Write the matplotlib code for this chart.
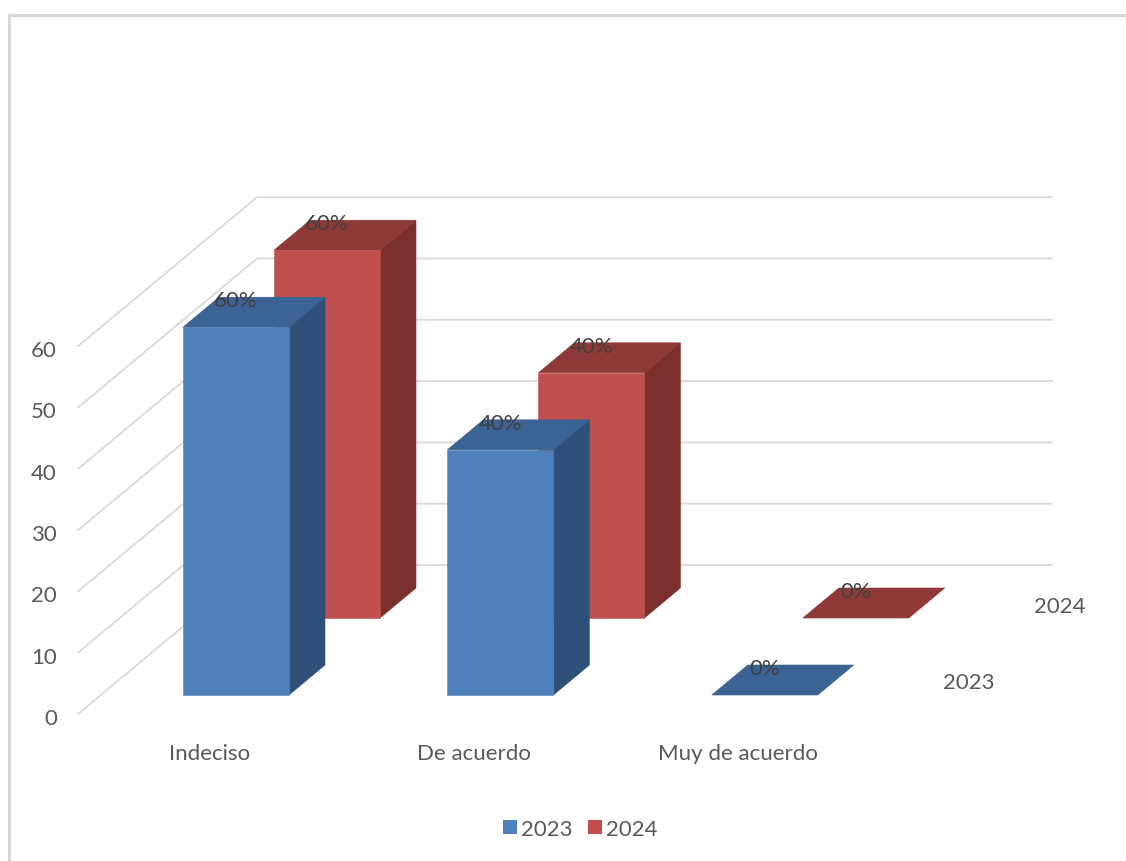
import matplotlib
matplotlib.use("Agg")
import matplotlib.pyplot as plt
from matplotlib.patches import Polygon, Rectangle
from matplotlib.lines import Line2D

categories = ["Indeciso", "De acuerdo", "Muy de acuerdo"]
series_names = ["2023", "2024"]
values_2023 = [60, 40, 0]
values_2024 = [60, 40, 0]
labels_2023 = ["60%", "40%", "0%"]
labels_2024 = ["60%", "40%", "0%"]
y_ticks = [0, 10, 20, 30, 40, 50, 60]

W, H = 1126, 862
PX_PER_UNIT = 6.13
Y0 = 714
SHIFT = 1
fig = plt.figure(figsize=(W / 100, H / 100), dpi=100, facecolor="white")
ax = fig.add_axes([0, 0, 1, 1])
ax.set_xlim(0, W)
ax.set_ylim((Y0 + SHIFT - H) / PX_PER_UNIT, (Y0 + SHIFT) / PX_PER_UNIT)
ax.axis("off")

plt.rcParams["font.family"] = ["Lato", "DejaVu Sans"]
TXT = "#595959"
LBL = "#404040"
GRID = "#d9d9d9"
u = 1 / PX_PER_UNIT
T = 1 * u  # text nudge downward

# chart frame
ax.add_line(Line2D([9, 9, W], [(Y0 - H) * u, (Y0 - 15) * u, (Y0 - 15) * u], color="#d9d9d9", lw=2.2))

# walls
wall_dx, wall_dy = 179, 149 * u
for t in y_ticks:
    ax.add_line(Line2D([78, 78 + wall_dx, 1052], [t, t + wall_dy, t + wall_dy], color=GRID, lw=1.3, zorder=1))
    ax.text(57, t - 4 * u, str(t), ha="right", va="center", fontsize=16, color=TXT)

# bars
step = 264.4
width = 106
dep_x, dep_y = 36, 30 * u
series_pos = [(183, 695, 0), (274, 618, 1)]
colors = [("#4f81bd", "#3b6393", "#2f5179"), ("#c0504d", "#8f3a38", "#7b302e")]


def bar(x, base, val, cols, z):
    top = base + val
    if val > 0:
        ax.add_patch(Polygon([(x + width, base), (x + width + dep_x, base + dep_y),
                              (x + width + dep_x, top + dep_y), (x + width, top)],
                             fc=cols[2], ec=cols[2], lw=0.4, zorder=z))
        ax.add_patch(Polygon([(x, base), (x + width, base), (x + width, top), (x, top)],
                             fc=cols[0], ec=cols[0], lw=0.4, zorder=z + 0.5))
    ax.add_patch(Polygon([(x, top), (x + dep_x, top + dep_y),
                          (x + width + dep_x, top + dep_y), (x + width, top)],
                         fc=cols[1], ec=cols[1], lw=0.4, zorder=z))


for values, labels, (x0, base_px, s) in [(values_2024, labels_2024, series_pos[1]),
                                         (values_2023, labels_2023, series_pos[0])]:
    z = 5 if s == 1 else 7
    for i, v in enumerate(values):
        x = x0 + i * step
        base = (Y0 - base_px) * u
        bar(x, base, v, colors[s], z)
        ax.text(x + 53, base + v + 28 * u - T, labels[i], ha="center", va="center",
                fontsize=16, color=LBL, zorder=10)

# category labels
for i, c in enumerate(categories):
    ax.text(210 + i * 264, (Y0 - 752) * u - T, c, ha="center", va="center", fontsize=16, color=TXT)

# series axis labels
ax.text(1060, (Y0 - 605) * u - T, series_names[1], ha="center", va="center", fontsize=16, color=TXT)
ax.text(969, (Y0 - 681) * u - T, series_names[0], ha="center", va="center", fontsize=16, color=TXT)

# legend
for name, col, xs, xt in zip(series_names, [colors[0][0], colors[1][0]], [503, 588], [547, 632]):
    ax.add_patch(Rectangle((xs, (Y0 - 834) * u), 14, 14 * u, fc=col, ec="none"))
    ax.text(xt, (Y0 - 828) * u - T, name, ha="center", va="center", fontsize=16, color=TXT)

fig.savefig("out.png", dpi=100)
